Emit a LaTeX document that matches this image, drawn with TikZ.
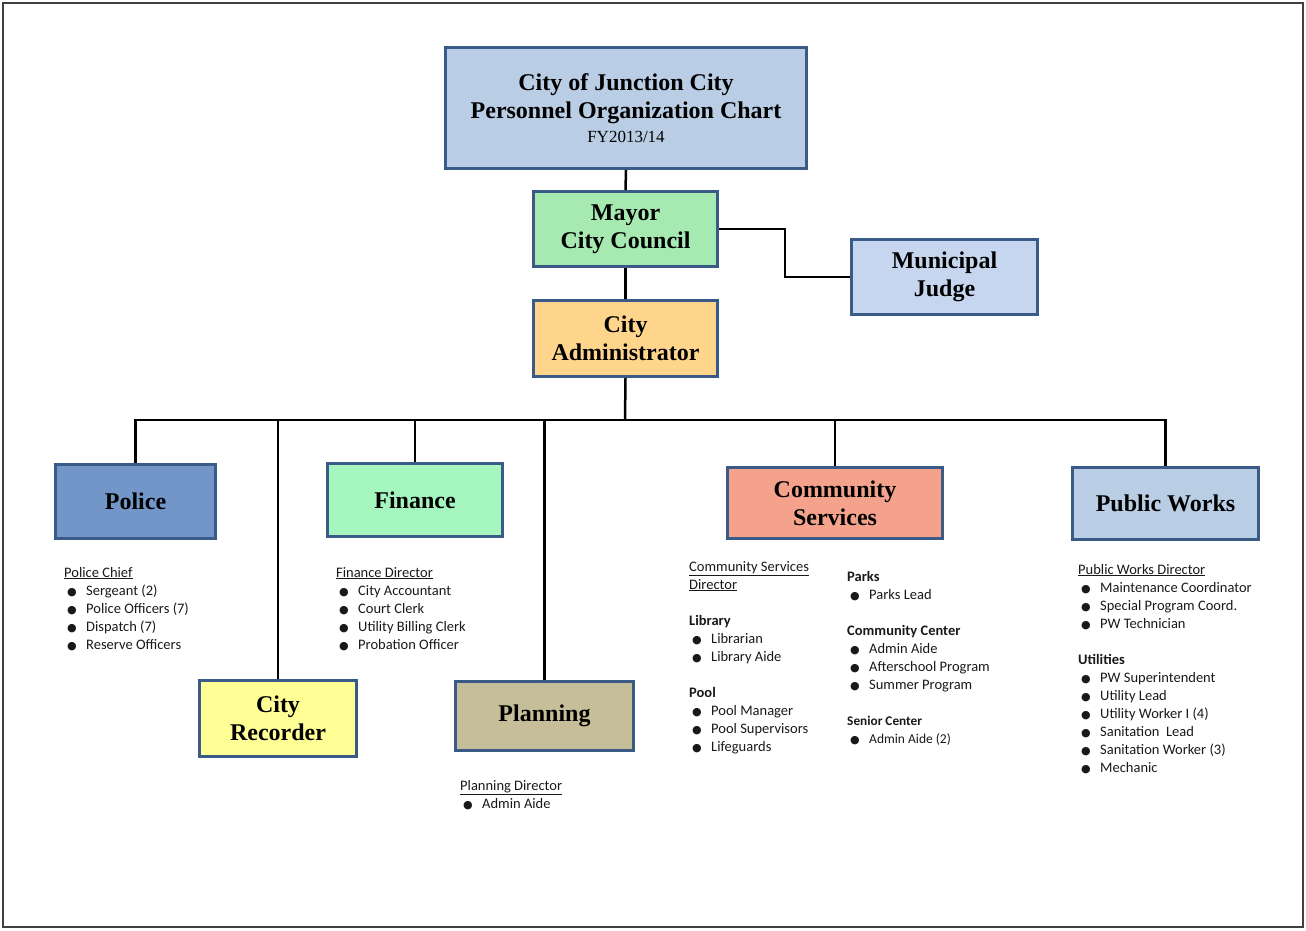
\documentclass[tikz,border=0pt]{standalone}
\usepackage{fontspec}
\setmainfont{Liberation Serif}
\newfontfamily\calib{Carlito}
\newfontfamily\symb{DejaVu Sans}
\definecolor{bordo}{RGB}{58,90,135}
\definecolor{cTitle}{RGB}{185,205,229}
\definecolor{cMayor}{RGB}{166,234,178}
\definecolor{cJudge}{RGB}{198,214,238}
\definecolor{cAdmin}{RGB}{255,213,140}
\definecolor{cPolice}{RGB}{114,150,200}
\definecolor{cFinance}{RGB}{164,245,190}
\definecolor{cCommunity}{RGB}{245,162,140}
\definecolor{cWorks}{RGB}{185,205,229}
\definecolor{cRecorder}{RGB}{255,255,150}
\definecolor{cPlanning}{RGB}{198,190,152}
\newcommand\bul{\makebox[22pt][l]{\hspace*{3pt}{\symb\fontsize{11}{11}\selectfont ●}}}
\begin{document}
\begin{tikzpicture}[x=1pt,y=-1pt,
    box/.style={draw=bordo, line width=3pt, align=center, inner sep=0pt,
      font=\fontsize{24}{28}\selectfont\bfseries},
    link/.style={line width=2.5pt, black},
    list/.style={anchor=base west, inner sep=0pt, align=left, text=black!90,
      font=\calib\fontsize{14.5}{18}\selectfont}]
        \useasboundingbox (0,0) rectangle (1306,930);
        %cornice
        \draw[line width=2.5pt, black!75] (3,3) rectangle (1303,927);
        %vertice
        \node[box, fill=cTitle, minimum width=361pt, minimum height=121pt] (title) at (626,108)
            {City of Junction City\\Personnel Organization Chart\\[-4pt]{\fontsize{17}{20}\selectfont\mdseries FY2013/14}};
        \node[box, fill=cMayor, minimum width=184pt, minimum height=75pt] (mayor) at (625.5,229) {Mayor\\City Council};
        \node[box, fill=cJudge, minimum width=186pt, minimum height=75pt] (judge) at (944.5,277) {Municipal\\Judge};
        \node[box, fill=cAdmin, minimum width=184pt, minimum height=76pt] (admin) at (625.5,338.5) {City\\Administrator};
        %dipartimenti
        \node[box, fill=cPolice, minimum width=160pt, minimum height=74pt] (police) at (135.5,501.5) {Police};
        \node[box, fill=cFinance, minimum width=175pt, minimum height=73pt] (finance) at (415,500) {Finance};
        \node[box, fill=cCommunity, minimum width=215pt, minimum height=71pt] (community) at (835,503) {Community\\Services};
        \node[box, fill=cWorks, minimum width=186pt, minimum height=72pt] (works) at (1165.5,503.5) {Public Works};
        \node[box, fill=cRecorder, minimum width=157pt, minimum height=76pt] (recorder) at (278,718.5) {City\\Recorder};
        \node[box, fill=cPlanning, minimum width=178pt, minimum height=69pt] (planning) at (544.5,716) {Planning};
        %collegamenti
        \coordinate (bus) at (625,420);
        \draw[link] (title.south) -- (mayor.north);
        \draw[link] (mayor.south) -- (admin.north);
        \draw[link] (mayor.east) -- ++(66,0) |- (judge.west);
        \draw[link] (admin.south) -- (bus);
        \draw[link] (police.north) -- (police.north |- bus) -- (works.north |- bus) -- (works.north);
        \draw[link] (recorder.north) -- (recorder.north |- bus);
        \draw[link] (finance.north) -- (finance.north |- bus);
        \draw[link] (planning.north) -- (planning.north |- bus);
        \draw[link] (community.north) -- (community.north |- bus);
        %elenchi personale (ancorati all'ultima riga)
        \node[list] (policeList) at (64,649) {\underline{Police Chief}\\
            \bul Sergeant (2)\\ \bul Police Officers (7)\\ \bul Dispatch (7)\\ \bul Reserve Officers};
        \node[list] (financeList) at (336,649) {\underline{Finance Director}\\
            \bul City Accountant\\ \bul Court Clerk\\ \bul Utility Billing Clerk\\ \bul Probation Officer};
        \node[list] (communityList) at (689,751) {\underline{Community Services}\\ \underline{Director}\\[18pt]
            \textbf{Library}\\ \bul Librarian\\ \bul Library Aide\\[18pt]
            \textbf{Pool}\\ \bul Pool Manager\\ \bul Pool Supervisors\\ \bul Lifeguards};
        \node[list] (centerList) at (847,743) {\textbf{Parks}\\ \bul Parks Lead\\[18pt]
            \textbf{Community Center}\\ \bul Admin Aide\\ \bul Afterschool Program\\ \bul Summer Program\\[18pt]
            {\fontsize{13.3}{18}\selectfont\bfseries Senior Center}\\ {\fontsize{13.5}{18}\selectfont\bul Admin Aide (2)}};
        \node[list] (worksList) at (1078,772) {\underline{Public Works Director}\\
            \bul Maintenance Coordinator\\ \bul Special Program Coord.\\ \bul PW Technician\\[18pt]
            \textbf{Utilities}\\ \bul PW Superintendent\\ \bul Utility Lead\\ \bul Utility Worker I (4)\\
            \bul Sanitation\ \ Lead\\ \bul Sanitation Worker (3)\\ \bul Mechanic};
        \node[list] (planningList) at (460,808) {\underline{Planning Director}\\ \bul Admin Aide};
\end{tikzpicture}
\end{document}
